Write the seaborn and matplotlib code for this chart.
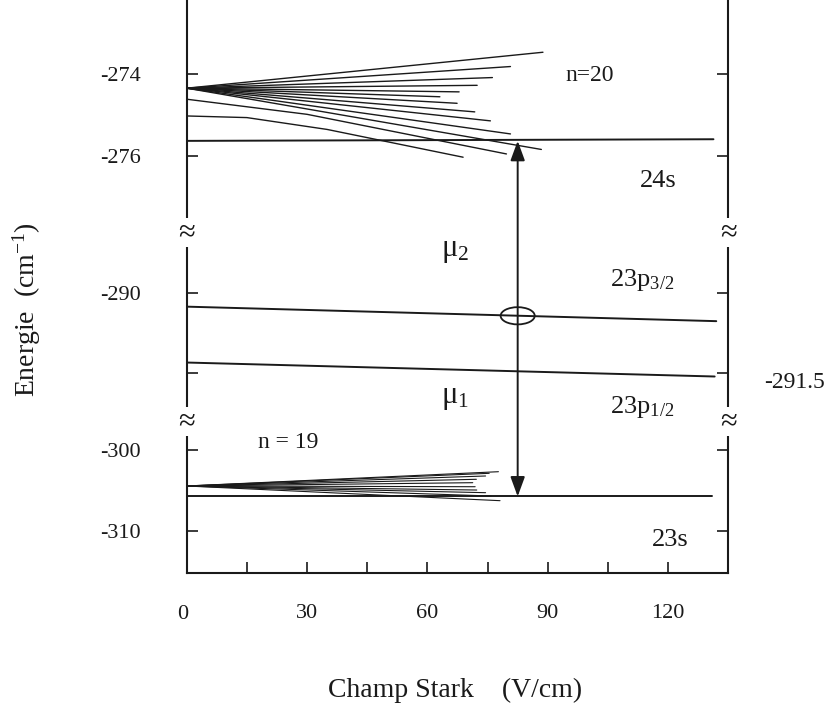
import numpy as np
import pandas as pd
import matplotlib
matplotlib.use("Agg")
import matplotlib.pyplot as plt
import matplotlib.transforms as mtransforms
from matplotlib.patches import Ellipse
import seaborn as sns

# ---------------- data ----------------
# n=20 hydrogenic manifold: common origin at zero field, end points of each Stark line
n20_origin_E = -274.34
n20_end_field = [88.8, 80.7, 76.2, 72.4, 67.9, 63.1, 67.4, 71.8, 75.7, 80.7, 88.4]
n20_end_E = [-273.46, -273.81, -274.08, -274.27, -274.43, -274.55,
             -274.71, -274.92, -275.14, -275.46, -275.84]
# low-l states bending into the n=20 manifold
curveA_field = [0, 30, 79.7]
curveA_E = [-274.61, -274.98, -275.95]
curveB_field = [0, 15, 35, 68.9]
curveB_E = [-275.02, -275.06, -275.35, -276.03]

# isolated levels
s24_field = [0, 131.3]
s24_E = [-275.63, -275.59]
p32_field = [0, 132.0]
p32_E = [-290.26, -290.53]
p12_field = [0, 131.6]
p12_E = [-291.30, -291.56]
s23_field = [0, 131.0]
s23_E = [-305.76, -305.76]

# n=19 manifold
n19_origin_E = -304.46
n19_end_field = [77.7, 75.4, 74.5, 72.2, 71.3, 71.9, 72.3, 74.5, 75.9, 78.1]
n19_end_E = [-302.69, -302.89, -303.22, -303.63, -304.05, -304.55,
             -304.96, -305.29, -305.70, -306.28]

# transition arrow / crossing marker
arrow_field = 82.5
crossing_E = -290.43

x_ticks = [15, 30, 45, 60, 75, 90, 105, 120]
x_ticklabels = ["", "30", "", "60", "", "90", "", "120"]
y_ticks = [-274, -276, -290, -291.5, -300, -310]
y_ticklabels = ["-274", "-276", "-290", "", "-300", "-310"]

# ---------------- build long table ----------------
rows = []
lid = 0
for xf, ef in zip(n20_end_field, n20_end_E):
    rows += [(lid, "fan20", 0.0, n20_origin_E), (lid, "fan20", xf, ef)]
    lid += 1
for xs, es in [(curveA_field, curveA_E), (curveB_field, curveB_E)]:
    rows += [(lid, "fan20", x, e) for x, e in zip(xs, es)]
    lid += 1
for xf, ef in zip(n19_end_field, n19_end_E):
    rows += [(lid, "fan19", 0.0, n19_origin_E), (lid, "fan19", xf, ef)]
    lid += 1
for xs, es in [(s24_field, s24_E), (p32_field, p32_E), (p12_field, p12_E), (s23_field, s23_E)]:
    rows += [(lid, "level", x, e) for x, e in zip(xs, es)]
    lid += 1
df = pd.DataFrame(rows, columns=["line", "kind", "field", "energy"])

# ---------------- style ----------------
sns.set_style("ticks")
plt.rcParams["font.family"] = ["Liberation Serif", "DejaVu Serif"]
plt.rcParams["mathtext.fontset"] = "custom"
plt.rcParams["mathtext.rm"] = "Liberation Serif"
plt.rcParams["mathtext.it"] = "Liberation Serif:italic"

W, H = 827, 710
fig = plt.figure(figsize=(W / 100, H / 100), dpi=100)
L, R, B, T = 186.7, 728.3, 573.3, 0.0
ax = fig.add_axes([L / W, 1 - B / H, (R - L) / W, (B - T) / H])

# broken energy axis: three linear pieces, gaps collapsed
E_pts = [-315.279, -296.493, -292.401, -288.880, -277.873, -272.181]
P_pts = [-573.3, -421.7, -421.69, -232.5, -232.49, 0.0]
fwd = lambda e: np.interp(e, E_pts, P_pts)
inv = lambda p: np.interp(p, P_pts, E_pts)
ax.set_yscale("function", functions=(fwd, inv))

ink = "#1a1a1a"
for kind, lw in [("fan20", 1.0), ("fan19", 0.8), ("level", 1.4)]:
    sub = df[df.kind == kind]
    sns.lineplot(data=sub, x="field", y="energy", units="line", estimator=None,
                 sort=False, color=ink, lw=lw, ax=ax, legend=False)

ax.set_xlim(0, 135)
ax.set_ylim(E_pts[0], E_pts[-1])

# arrow between 24s and 23s
ax.annotate("", xy=(arrow_field, s23_E[0]), xytext=(arrow_field, s24_E[0]),
            arrowprops=dict(arrowstyle="<|-|>,head_length=0.6,head_width=0.22",
                            color=ink, lw=1.4, shrinkA=0, shrinkB=0,
                            mutation_scale=20))
ax.add_patch(Ellipse((arrow_field, crossing_E), 8.5, 0.32, fill=False,
                     lw=1.3, ec=ink, zorder=5))

# ticks
ax.set_xticks(x_ticks)
ax.set_xticklabels(x_ticklabels)
ax.set_yticks(y_ticks)
ax.set_yticklabels(y_ticklabels)
ax.yaxis.set_minor_locator(matplotlib.ticker.NullLocator())
ax.tick_params(axis="both", direction="in", length=8, width=1.2, colors=ink,
               labelsize=16)
ax.tick_params(axis="y", left=True, right=True, pad=33)
ax.tick_params(axis="x", bottom=True, top=False, pad=22)
# zero label under the origin
ax.text(0, -0.0, "0", transform=mtransforms.blended_transform_factory(ax.transData, ax.transAxes),
        ha="center", va="top", fontsize=16, color=ink)
ax.texts[-1].set_position((-1.0, -(614 - 573.3 - 9) / (B - T)))

for s in ["left", "right", "bottom"]:
    ax.spines[s].set_linewidth(1.5)
    ax.spines[s].set_color(ink)
ax.spines["top"].set_visible(False)

# break marks
for ya in [(B - 232.5) / (B - T), (B - 421.7) / (B - T)]:
    for xa in [0.0, 1.0]:
        ax.text(xa, ya, "≈", transform=ax.transAxes, ha="center", va="center",
                fontsize=22, color=ink, clip_on=False, zorder=10,
                bbox=dict(fc="white", ec="none", pad=0.0))

# annotations
tk = dict(color=ink, fontsize=17)
ax.text(94.5, -274.04, "n=20", ha="left", va="center", **tk)
ax.text(113.0, -276.61, "24s", ha="left", va="center", fontsize=19, color=ink)
ax.text(63.5, -289.21, r"$\mathrm{μ}_{2}$", ha="left", va="center", fontsize=22, color=ink)
ax.text(105.5, -289.76, r"$\mathrm{23p}_{\mathrm{3/2}}$", ha="left", va="center", fontsize=19, color=ink)
ax.text(63.5, -291.96, r"$\mathrm{μ}_{1}$", ha="left", va="center", fontsize=22, color=ink)
ax.text(105.5, -292.13, r"$\mathrm{23p}_{\mathrm{1/2}}$", ha="left", va="center", fontsize=19, color=ink)
ax.text(17.8, -299.01, "n = 19", ha="left", va="center", **tk)
ax.text(115.9, -311.15, "23s", ha="left", va="center", fontsize=19, color=ink)
ax.text(1 + (764 - R) / (R - L), -291.68, "-291.5",
        transform=mtransforms.blended_transform_factory(ax.transAxes, ax.transData),
        ha="left", va="center", fontsize=17, color=ink, clip_on=False)

ax.set_xlabel("Champ Stark    (V/cm)", fontsize=20, color=ink)
ax.set_ylabel("Energie  (cm$^{-1}$)", fontsize=20, color=ink)
ax.xaxis.set_label_coords((455 - L) / (R - L), (B - 690) / (B - T))
ax.xaxis.label.set_va("center")
ax.yaxis.set_label_coords((27 - L) / (R - L), (B - 310) / (B - T))
ax.yaxis.label.set_va("center")

fig.savefig("out.png", dpi=100, facecolor="white")
